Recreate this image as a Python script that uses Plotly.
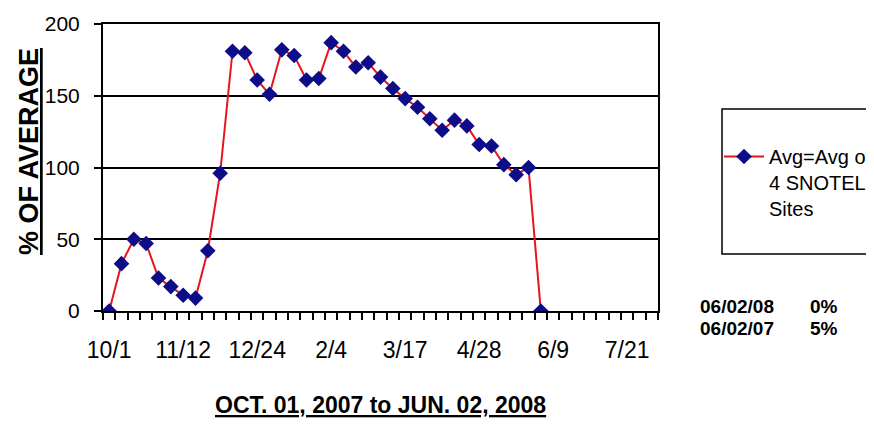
import pandas as pd
import plotly.graph_objects as go

# weekly % of average, starting Oct 1 2007
pct_of_avg = [0, 33, 50, 47, 23, 17, 11, 9, 42, 96, 181, 180, 161, 151, 182, 178,
              161, 162, 187, 181, 170, 173, 163, 155, 148, 142, 134, 126, 133, 129,
              116, 115, 102, 95, 100, 0]
week_dates = pd.date_range("2007-10-01", periods=len(pct_of_avg), freq="7D")

tick_dates = ["2007-10-01", "2007-11-12", "2007-12-24", "2008-02-04",
              "2008-03-17", "2008-04-28", "2008-06-09", "2008-07-21"]
tick_labels = ["10/1", "11/12", "12/24", "2/4", "3/17", "4/28", "6/9", "7/21"]

series_name = "Avg=Avg of<br>4 SNOTEL<br>Sites"
compare_rows = ["06/02/08", "06/02/07"]
compare_vals = ["0%", "5%"]

FONT = "Arial, Liberation Sans, sans-serif"

# the page body adds an 8px margin round the figure
PAD = 8
W, H = 874 - PAD, 427 - 2 * PAD
# plot area in page pixels: x 103..658, y 24..311
L, R, T, B = 103, 658, 24, 311


def px(x):
    return (x - L) / (R - L)


def py(y):
    return (B - y) / (B - T)


fig = go.Figure()
fig.add_trace(go.Scatter(
    x=week_dates, y=pct_of_avg, mode="lines+markers", name=series_name,
    line=dict(color="#e8141b", width=2),
    marker=dict(symbol="diamond", size=12, color="#0d0d8a"),
))

fig.update_xaxes(
    range=["2007-09-27 12:00", "2008-08-07 12:00"],
    tickvals=tick_dates, ticktext=tick_labels, ticks="",
    tickfont=dict(family=FONT, size=23, color="black"),
    ticklabelstandoff=17,
    minor=dict(ticks="outside", ticklen=7, tickwidth=1.5, tickcolor="black",
               tick0="2007-09-27 12:00", dtick=7 * 86400000, showgrid=False),
    showgrid=False, showline=True, linecolor="black", linewidth=2, mirror=True,
)
fig.update_yaxes(
    range=[0, 200], dtick=50, ticks="outside", ticklen=7, tickwidth=1.5,
    tickcolor="black",
    tickfont=dict(family=FONT, size=21, color="black"),
    ticklabelstandoff=10,
    showgrid=True, gridcolor="black", gridwidth=2, zeroline=False,
    showline=True, linecolor="black", linewidth=2, mirror=True,
)

# legend frame
fig.add_shape(type="rect", xref="paper", yref="paper",
              x0=px(722), x1=px(871), y0=py(254), y1=py(109),
              line=dict(color="black", width=1.5), fillcolor="rgba(0,0,0,0)")

fig.add_annotation(text="<u><b>% OF AVERAGE</b></u>", textangle=-90,
                   xref="paper", yref="paper", x=px(29), y=py(152),
                   xanchor="center", yanchor="middle",
                   showarrow=False, font=dict(family=FONT, size=27, color="black"))
fig.add_annotation(text="<u><b>OCT. 01, 2007 to JUN. 02, 2008</b></u>",
                   xref="paper", yref="paper", x=px(380), y=py(405),
                   xanchor="center", yanchor="middle",
                   showarrow=False, font=dict(family=FONT, size=23, color="black"))

for i, (d, v) in enumerate(zip(compare_rows, compare_vals)):
    yy = py(306 + 22 * i)
    fig.add_annotation(text="<b>" + d + "</b>", xref="paper", yref="paper",
                       x=px(698), y=yy, xanchor="left", yanchor="middle",
                       showarrow=False, font=dict(family=FONT, size=19, color="black"))
    fig.add_annotation(text="<b>" + v + "</b>", xref="paper", yref="paper",
                       x=px(808), y=yy, xanchor="left", yanchor="middle",
                       showarrow=False, font=dict(family=FONT, size=19, color="black"))

fig.update_layout(
    width=W, height=H,
    margin=dict(l=L - PAD, r=W - (R - PAD), t=T - PAD, b=H - (B - PAD), autoexpand=False),
    paper_bgcolor="white", plot_bgcolor="white",
    showlegend=True,
    legend=dict(x=px(719), y=py(137), xanchor="left", yanchor="top",
                bgcolor="rgba(0,0,0,0)", borderwidth=0, itemwidth=40, valign="top",
                font=dict(family=FONT, size=20, color="black")),
)

fig.write_html("out.html")
